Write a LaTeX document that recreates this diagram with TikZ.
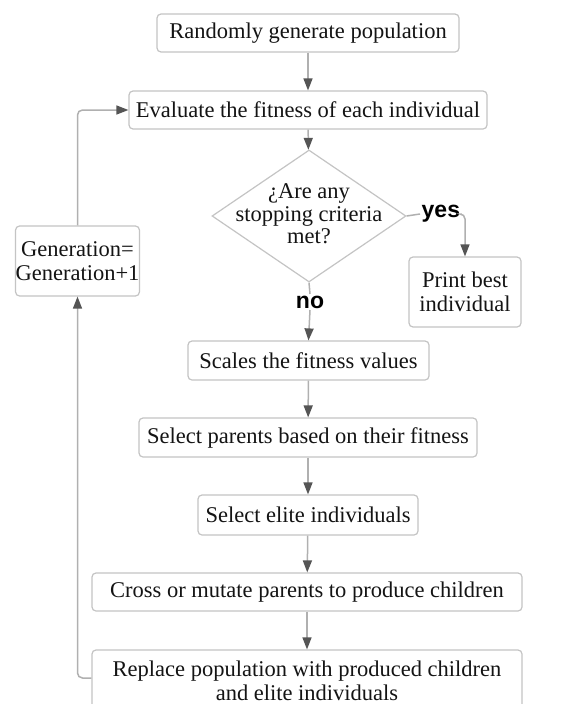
\documentclass[tikz,border=0pt]{standalone}
\usepackage{fontspec}
\setmainfont{Liberation Serif}
\newfontfamily\labelfont{Liberation Sans}
\usetikzlibrary{shapes.geometric,arrows.meta}
\definecolor{boxc}{HTML}{C4C4C4}
\definecolor{linec}{HTML}{B0B0B0}
\definecolor{tipc}{HTML}{555555}
\definecolor{txt}{HTML}{141414}
\begin{document}
\begin{tikzpicture}[x=1pt,y=-1pt,
  box/.style={draw=boxc, line width=1.2pt, rounded corners=4pt, rectangle, inner sep=0pt, align=center, text=txt, font=\fontsize{22.5}{23.5}\selectfont},
  flow/.style={draw=linec, line width=1.5pt, -{Triangle[length=12pt,width=9pt,color=tipc]}},
  plain/.style={draw=linec, line width=1.5pt},
  lab/.style={font=\labelfont\bfseries\fontsize{23}{24}\selectfont, inner sep=1.5pt, text=black}]
\clip (0,0) rectangle (569,704);
\fill[white] (0,0) rectangle (569,704);
\node[box, minimum width=302pt, minimum height=38pt] (init) at (308,33) {Randomly generate population};
\node[box, minimum width=358pt, minimum height=38pt] (eval) at (308,110) {Evaluate the fitness of each individual};
\node[diamond, draw=boxc, line width=1.2pt, minimum width=194pt, minimum height=132pt, inner sep=0pt] (dec) at (309,216) {};
\node[align=center, text=txt, inner sep=0pt, font=\fontsize{22.5}{22.5}\selectfont] (dectext) at (309,214) {¿Are any\\stopping criteria\\met?};
\node[lab, anchor=west] (yes) at (420,214) {yes};
\node[box, minimum width=112pt, minimum height=70pt] (print) at (465,292) {Print best\\individual};
\node[lab] (no) at (310,302) {no};
\node[box, minimum width=241pt, minimum height=39pt] (scale) at (308.5,360.5) {Scales the fitness values};
\node[box, minimum width=338pt, minimum height=39pt] (parents) at (308,437.5) {Select parents based on their fitness};
\node[box, minimum width=220pt, minimum height=40pt] (elite) at (308,515) {Select elite individuals};
\node[box, minimum width=430pt, minimum height=38pt] (cross) at (307,592) {Cross or mutate parents to produce children};
\node[box, minimum width=430pt, minimum height=62pt] (replace) at (307,681) {Replace population with produced children\\and elite individuals};
\node[box, minimum width=123pt, minimum height=70pt] (gen) at (77.5,261) {Generation=\\Generation+1};
\coordinate (rw) at ([yshift=3pt]replace.west);

\draw[flow] (init) -- (eval);
\draw[flow] (eval) -- (dec);
\draw[plain] (dec.east) -- (yes.west);
\draw[flow, rounded corners=5pt] (yes.east) -| (print.north);
\draw[plain] (dec.south) -- (no.north);
\draw[flow] (no.south) -- (scale.north);
\draw[flow] (scale) -- (parents);
\draw[flow] (parents) -- (elite);
\draw[flow] (elite) -- (cross);
\draw[flow] (cross) -- (replace);
\draw[flow, rounded corners=5pt] (rw) -| (gen.south);
\draw[flow, rounded corners=5pt] (gen.north) |- (eval.west);
\end{tikzpicture}
\end{document}
